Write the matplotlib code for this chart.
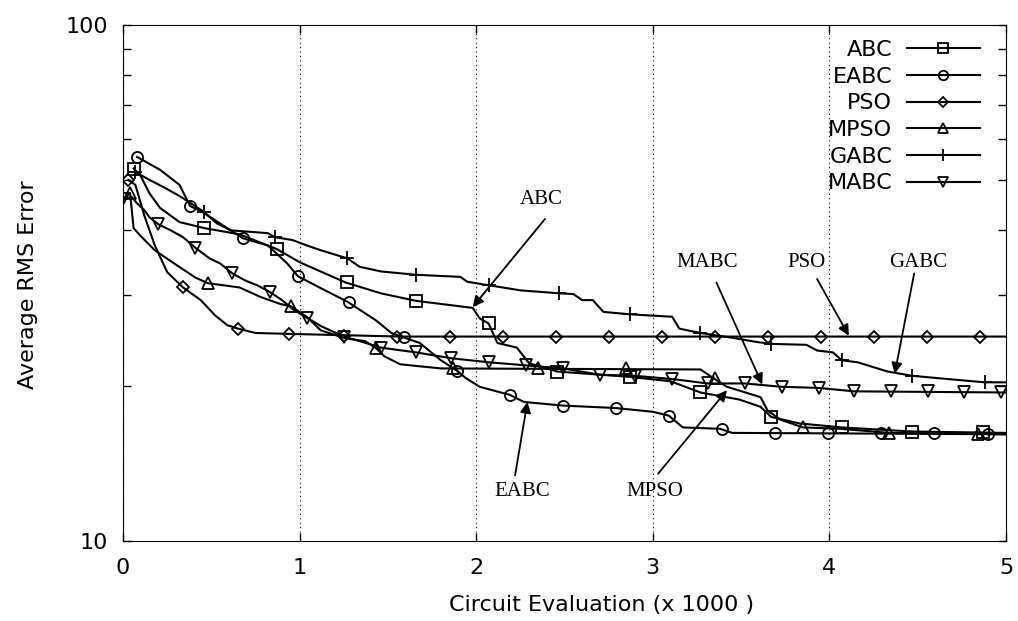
import matplotlib
matplotlib.use('Agg')
import matplotlib.pyplot as plt
from matplotlib.lines import Line2D
from matplotlib.ticker import NullFormatter, NullLocator

# ---- data ----
abc_x = [0.06, 0.10, 0.15, 0.21, 0.32, 0.46, 0.66, 0.87, 1.00, 1.26, 1.46, 1.66, 1.98, 2.02, 2.07,
         2.12, 2.23, 2.30, 2.46, 2.87, 3.10, 3.27, 3.49, 3.61, 3.67, 3.83, 4.07, 4.47, 5.00]
abc_y = [52.7, 51.0, 47.2, 44.2, 41.5, 40.4, 39.3, 36.8, 34.7, 31.7, 30.2, 29.2, 28.3, 27.0, 26.4,
         24.2, 23.7, 22.1, 21.3, 20.8, 20.4, 19.4, 18.8, 18.2, 17.4, 16.9, 16.6, 16.3, 16.2]
abc_mx = [0.06, 0.46, 0.87, 1.27, 1.66, 2.07, 2.46, 2.87, 3.27, 3.67, 4.07, 4.47, 4.87]
abc_my = [52.7, 40.4, 36.8, 31.8, 29.2, 26.4, 21.3, 20.8, 19.4, 17.4, 16.6, 16.3, 16.3]

eabc_x = [0.08, 0.21, 0.32, 0.38, 0.45, 0.58, 0.68, 0.82, 0.93, 0.99, 1.12, 1.27, 1.43, 1.52, 1.59,
          1.68, 1.80, 1.89, 1.94, 2.02, 2.14, 2.19, 2.27, 2.49, 2.79, 3.00, 3.09, 3.17, 3.38, 3.45, 5.00]
eabc_y = [55.5, 52.4, 49.0, 44.6, 43.4, 40.6, 38.6, 37.4, 34.5, 32.6, 30.9, 29.1, 26.8, 25.3, 24.8,
          24.2, 22.4, 21.4, 20.7, 19.9, 19.4, 19.2, 18.6, 18.3, 18.1, 17.8, 17.5, 16.6, 16.5, 16.2, 16.1]
eabc_mx = [0.08, 0.38, 0.68, 0.99, 1.28, 1.59, 1.89, 2.19, 2.49, 2.79, 3.09, 3.39, 3.69, 3.99, 4.29, 4.59, 4.90]
eabc_my = [55.5, 44.6, 38.6, 32.6, 29.1, 24.8, 21.4, 19.2, 18.3, 18.1, 17.5, 16.5, 16.2, 16.2, 16.2, 16.2, 16.1]

pso_x = [0.03, 0.07, 0.12, 0.18, 0.25, 0.34, 0.44, 0.52, 0.59, 0.65, 0.75, 0.94, 1.57, 5.00]
pso_y = [50.1, 49.0, 42.8, 37.4, 33.2, 31.0, 29.3, 27.4, 26.2, 25.8, 25.3, 25.2, 24.9, 24.9]
pso_mx = [0.03, 0.34, 0.65, 0.94, 1.25, 1.55, 1.85, 2.15, 2.45, 2.75, 3.05, 3.35, 3.65, 3.95, 4.25, 4.55, 4.85]
pso_my = [50.1, 31.0, 25.8, 25.2, 25.0, 24.9, 24.9, 24.9, 24.9, 24.9, 24.9, 24.9, 24.9, 24.9, 24.9, 24.9, 24.9]

mpso_x = [0.04, 0.06, 0.10, 0.18, 0.29, 0.41, 0.48, 0.66, 0.78, 0.89, 0.95, 1.04, 1.12, 1.26, 1.37,
          1.43, 1.48, 1.57, 1.80, 3.27, 3.36, 3.42, 3.61, 3.65, 3.72, 3.85, 4.06, 4.34, 5.00]
mpso_y = [47.2, 40.4, 39.0, 36.6, 34.5, 32.4, 31.6, 31.0, 29.7, 28.8, 28.5, 27.2, 25.6, 24.7, 24.4,
          23.7, 22.8, 22.0, 21.6, 21.5, 20.5, 19.9, 19.0, 17.9, 17.2, 16.6, 16.5, 16.2, 16.1]
mpso_mx = [0.04, 0.48, 0.95, 1.43, 1.87, 2.35, 2.85, 3.35, 3.85, 4.34, 4.84]
mpso_my = [47.2, 31.6, 28.5, 23.7, 21.6, 21.6, 21.6, 20.7, 16.6, 16.2, 16.1]

gabc_x = [0.07, 0.15, 0.24, 0.33, 0.46, 0.53, 0.61, 0.82, 0.86, 0.96, 1.04, 1.12, 1.27, 1.34, 1.46,
          1.66, 1.91, 1.95, 2.07, 2.15, 2.25, 2.47, 2.55, 2.60, 2.66, 2.72, 2.87, 3.11, 3.15, 3.27,
          3.44, 3.59, 3.67, 3.87, 3.93, 4.02, 4.07, 4.16, 4.33, 4.47, 4.67, 4.88, 5.00]
gabc_y = [51.9, 50.1, 48.3, 46.4, 43.4, 41.3, 40.0, 39.5, 38.8, 38.3, 37.4, 36.6, 35.3, 34.0, 33.3,
          32.8, 32.5, 31.8, 31.3, 31.0, 30.6, 30.2, 30.1, 29.3, 29.3, 27.8, 27.5, 27.2, 25.8, 25.3,
          24.8, 24.3, 24.1, 24.0, 23.4, 23.2, 22.4, 22.2, 21.3, 20.9, 20.6, 20.3, 20.3]
gabc_mx = [0.07, 0.46, 0.86, 1.27, 1.66, 2.07, 2.47, 2.87, 3.27, 3.67, 4.07, 4.47, 4.88]
gabc_my = [51.9, 43.4, 38.8, 35.3, 32.8, 31.3, 30.2, 27.5, 25.3, 24.1, 22.4, 20.9, 20.3]

mabc_x = [0.00, 0.05, 0.08, 0.12, 0.15, 0.20, 0.27, 0.34, 0.41, 0.49, 0.55, 0.62, 0.69, 0.76, 0.83,
          0.90, 0.97, 1.04, 1.12, 1.25, 1.34, 1.46, 1.66, 1.86, 2.07, 2.28, 2.49, 2.70, 2.90, 3.11,
          3.31, 3.52, 3.73, 3.94, 4.14, 5.00]
mabc_y = [46.0, 46.4, 45.1, 43.8, 42.4, 41.1, 40.0, 38.8, 37.0, 35.3, 34.5, 33.0, 32.0, 31.3, 30.4,
          29.3, 28.0, 27.1, 26.1, 24.9, 24.4, 23.7, 23.2, 22.6, 22.2, 21.9, 21.6, 21.0, 20.9, 20.6,
          20.2, 20.2, 19.9, 19.8, 19.5, 19.4]
mabc_mx = [0.00, 0.20, 0.41, 0.62, 0.83, 1.04, 1.25, 1.46, 1.66, 1.86, 2.07, 2.28, 2.49, 2.70, 2.90,
           3.11, 3.31, 3.52, 3.73, 3.94, 4.14, 4.35, 4.56, 4.76, 4.97]
mabc_my = [46.0, 41.1, 37.0, 33.0, 30.4, 27.1, 24.9, 23.7, 23.2, 22.6, 22.2, 21.9, 21.6, 21.0, 20.9,
           20.6, 20.2, 20.2, 19.9, 19.8, 19.5, 19.5, 19.5, 19.4, 19.4]

# annotation labels: (text, text pos, arrow start, arrow tip)
notes = [
    ("ABC",  (2.37, 46.0), (2.39, 42.1), (1.98, 28.4)),
    ("EABC", (2.26, 12.45), (2.22, 13.4), (2.29, 18.6)),
    ("MPSO", (3.01, 12.45), (3.03, 13.5), (3.42, 19.6)),
    ("MABC", (3.31, 34.6), (3.36, 31.7), (3.62, 20.1)),
    ("PSO",  (3.87, 34.6), (3.93, 32.2), (4.11, 25.0)),
    ("GABC", (4.50, 34.6), (4.48, 33.0), (4.37, 21.1)),
]

series = [
    ("ABC", abc_x, abc_y, abc_mx, abc_my, 's', 8),
    ("EABC", eabc_x, eabc_y, eabc_mx, eabc_my, 'o', 8),
    ("PSO", pso_x, pso_y, pso_mx, pso_my, 'D', 6),
    ("MPSO", mpso_x, mpso_y, mpso_mx, mpso_my, '^', 8),
    ("GABC", gabc_x, gabc_y, gabc_mx, gabc_my, '+', 10),
    ("MABC", mabc_x, mabc_y, mabc_mx, mabc_my, 'v', 8),
]

fig = plt.figure(figsize=(10.18, 6.21), dpi=100)
ax = fig.add_axes([123 / 1018, 1 - 541 / 621, (1006 - 123) / 1018, (541 - 25) / 621])

handles = []
for name, x, y, mx, my, m, ms in series:
    ax.plot(x, y, color='black', lw=1.5)
    ax.plot(mx, my, linestyle='none', marker=m, ms=ms, mfc='none', mec='black', mew=1.3)
    handles.append(Line2D([], [], color='black', lw=1.5, marker=m, ms=ms * 0.85,
                          mfc='none', mec='black', mew=1.3))

ax.set_yscale('log')
ax.set_ylim(10, 100)
ax.set_xlim(0, 5)
ax.set_yticks([10, 100])
ax.set_yticklabels(['10', '100'])
ax.yaxis.set_minor_formatter(NullFormatter())
ax.set_xticks([0, 1, 2, 3, 4, 5])
ax.set_xticklabels(['0', '1', '2', '3', '4', '5'])
ax.xaxis.set_minor_locator(NullLocator())
ax.tick_params(which='both', direction='in', top=True, right=True, length=6, width=1,
               labelsize=16)
ax.tick_params(axis='x', pad=12)
ax.tick_params(axis='y', pad=11)
ax.grid(axis='x', which='major', linestyle=(0, (1, 3)), color='black', lw=0.8)

fig.text(28 / 1018, 1 - 285 / 621, 'Average RMS Error', rotation=90, ha='center', va='center',
         fontsize=16)
fig.text(602 / 1018, 1 - 605 / 621, 'Circuit Evaluation (x 1000 )', ha='center', va='center',
         fontsize=16)

for label, txt, start, tip in notes:
    ax.text(txt[0], txt[1], label, ha='center', va='center', fontsize=15,
            family='Liberation Serif')
    ax.annotate('', xy=tip, xytext=start,
                arrowprops=dict(arrowstyle='-|>', color='black', lw=1.3,
                                mutation_scale=16, shrinkA=0, shrinkB=0))

ax.legend(handles, [s[0] for s in series], loc='upper right', frameon=False,
          bbox_to_anchor=(980 / 1018, 1 - 40 / 621), bbox_transform=fig.transFigure,
          markerfirst=False, handlelength=3.3, handletextpad=0.65, labelspacing=0.3,
          borderpad=0, borderaxespad=0, fontsize=16)

fig.savefig('out.png', dpi=100)
